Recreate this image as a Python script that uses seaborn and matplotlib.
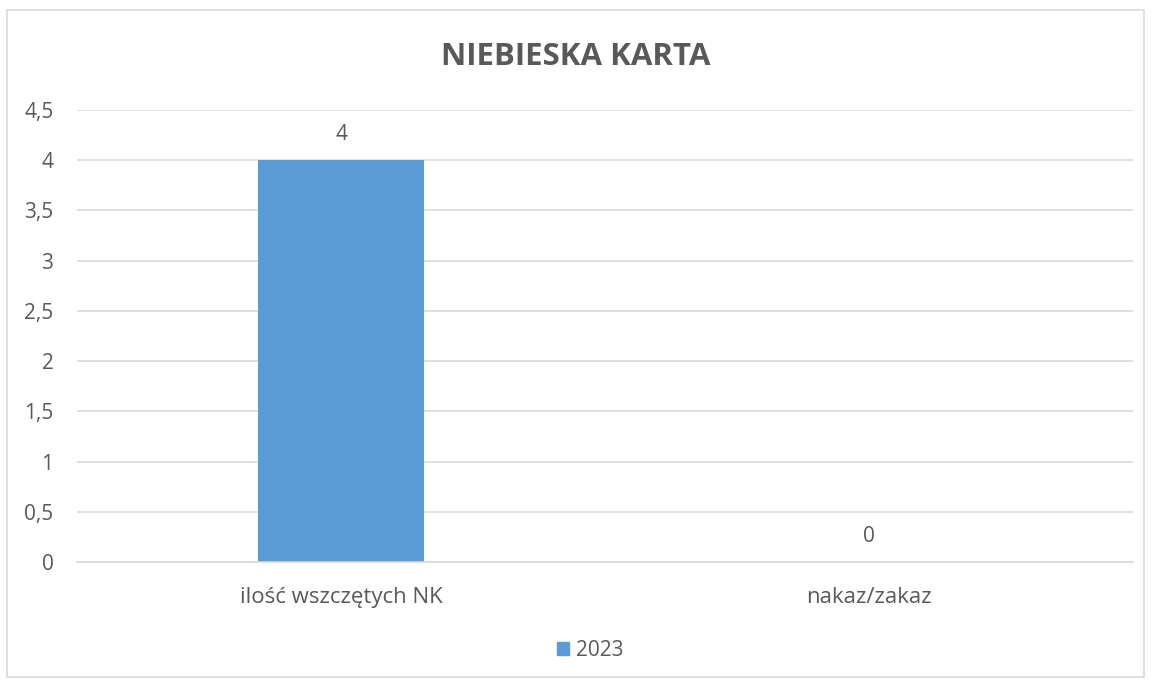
import seaborn as sns
import matplotlib.pyplot as plt
import matplotlib.patches as mpatches
import pandas as pd

categories = ['ilość wszczętych NK', 'nakaz/zakaz']
values_2023 = [4, 0]
series_name = '2023'
yticks = [0, 0.5, 1, 1.5, 2, 2.5, 3, 3.5, 4, 4.5]

df = pd.DataFrame({'kategoria': categories, 'wartosc': values_2023, 'rok': series_name})

sns.set_style('white')
plt.rcParams['font.family'] = ['Open Sans', 'DejaVu Sans']
txt = '#595959'
grid = '#D9D9D9'
blue = '#5B9BD5'

fig = plt.figure(figsize=(11.51, 6.8), dpi=100)
ax = fig.add_axes([77 / 1151, 1 - 562 / 680, (1133 - 77) / 1151, (562 - 110) / 680])

sns.barplot(data=df, x='kategoria', y='wartosc', hue='rok', palette=[blue],
            width=0.314, ax=ax, legend=False, saturation=1, linewidth=0)

ax.set_xlim(-0.5, 1.5)
ax.set_ylim(0, 4.5)
ax.set_yticks(yticks)
ax.set_yticklabels([str(t).replace('.', ',') if t % 1 else str(int(t)) for t in yticks])
ax.yaxis.grid(True, color=grid, linewidth=1.2)
ax.set_axisbelow(True)
for s in ['top', 'right', 'left']:
    ax.spines[s].set_visible(False)
ax.spines['bottom'].set_color(grid)
ax.spines['bottom'].set_linewidth(1.2)
ax.tick_params(axis='both', length=0, labelsize=15, colors=txt)
ax.tick_params(axis='x', labelsize=16, pad=18)
ax.tick_params(axis='y', pad=17)
ax.set_xlabel('')
ax.set_ylabel('')

for c in ax.containers:
    ax.bar_label(c, labels=[str(v) for v in values_2023], padding=11, fontsize=15, color=txt)

fig.text(0.5, 1 - 57 / 680, 'NIEBIESKA KARTA', ha='center', va='center',
         fontsize=22.5, fontweight='bold', color=txt)

handle = mpatches.Patch(color=blue, label=series_name)
fig.legend(handles=[handle], loc='center', bbox_to_anchor=(590 / 1151, 1 - 650 / 680),
           frameon=False, fontsize=15, labelcolor=txt, handlelength=0.6,
           handleheight=0.6, handletextpad=0.3)

fig.patches.append(mpatches.Rectangle((7 / 1151, 3 / 680), 1 - 14 / 1151, 1 - 13 / 680,
                                      transform=fig.transFigure, fill=False,
                                      edgecolor=grid, linewidth=1.2))

fig.savefig('out.png', dpi=100)
